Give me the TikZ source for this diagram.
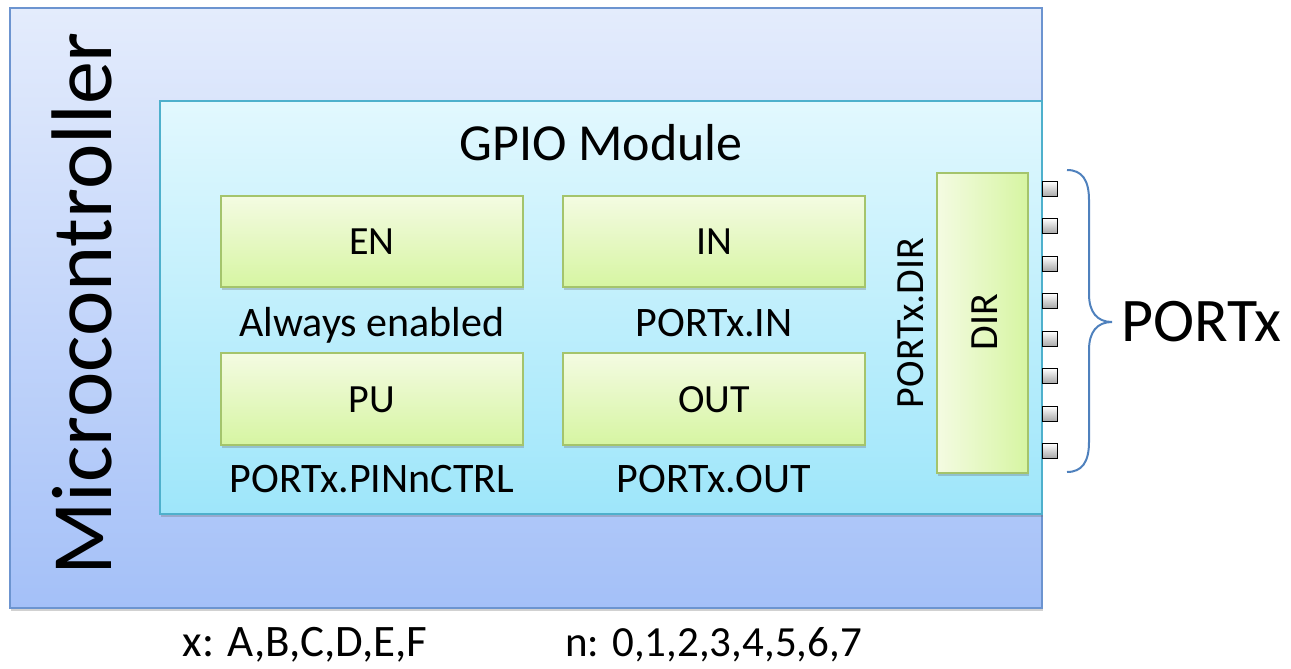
\documentclass[tikz,border=0pt]{standalone}
\usepackage{fontspec}
\setmainfont{Carlito}
\usetikzlibrary{shadows}
\definecolor{outtop}{HTML}{E4ECFC}
\definecolor{outbot}{HTML}{A4C0F8}
\definecolor{outline}{HTML}{6C94D0}
\definecolor{gtop}{HTML}{E2F8FE}
\definecolor{gbot}{HTML}{9EE6FA}
\definecolor{gline}{HTML}{4EB0CC}
\definecolor{rtop}{HTML}{F4FBE2}
\definecolor{rbot}{HTML}{D6F5A2}
\definecolor{rline}{HTML}{A4C46C}
\definecolor{bracec}{HTML}{4F81BD}
\newcommand{\fsz}[1]{\fontsize{#1}{#1}\selectfont}
\begin{document}
\begin{tikzpicture}[x=1pt,y=-1pt,
  shad/.style={drop shadow={shadow xshift=1pt,shadow yshift=-3pt,opacity=0.3,fill=black!60}},
  outerbox/.style={draw=outline,line width=1.5pt,top color=outtop,bottom color=outbot,shad},
  gpiobox/.style={draw=gline,line width=1.5pt,top color=gtop,bottom color=gbot,shad},
  regbox/.style={draw=rline,line width=1.5pt,top color=rtop,bottom color=rbot,shad},
  dirbox/.style={draw=rline,line width=1.5pt,left color=rtop,right color=rbot,shad},
  pinbox/.style={draw=black,line width=1.8pt,top color=white,bottom color=black!35,minimum size=15pt,inner sep=0pt},
  regtext/.style={font=\fsz{40}},
  lbl/.style={font=\fsz{42},anchor=base},
  bracepath/.style={draw=bracec,line width=2pt}]
\useasboundingbox (0,0) rectangle (1291,669);
% outer microcontroller box
\path[outerbox] (10,8) rectangle (1042,608);
\node[font=\fsz{86},rotate=90,anchor=base] (mcu) at (111,304) {Microcontroller};
% GPIO module
\path[gpiobox] (160,101) rectangle (1042,514);
\node[font=\fsz{52},anchor=base] (gpio) at (601,160) {GPIO Module};
% registers
\path[regbox] (221,196) rectangle (523,287);
\node[regtext] (en) at (372,242) {EN};
\path[regbox] (563,196) rectangle (865,287);
\node[regtext] (in) at (714,242) {IN};
\path[regbox] (221,353) rectangle (523,445);
\node[regtext] (pu) at (372,400) {PU};
\path[regbox] (563,353) rectangle (865,445);
\node[regtext] (out) at (714,400) {OUT};
\node[lbl] (enl) at (372,336) {Always enabled};
\node[lbl] (inl) at (714,336) {PORTx.IN};
\node[lbl] (pul) at (372,492) {PORTx.PINnCTRL};
\node[lbl] (outl) at (714,492) {PORTx.OUT};
% DIR
\path[dirbox] (937,173) rectangle (1028,473);
\node[regtext,rotate=90] (dir) at (985,322) {DIR};
\node[font=\fsz{40},rotate=90,anchor=base] (dirl) at (923,323) {PORTx.DIR};
% pins
\foreach \i/\yy in {1/189,2/226,3/264,4/301,5/339,6/376,7/414,8/451}
  \node[pinbox] (p\i) at (1050,\yy) {};
% brace
\coordinate (btop) at (1067,170);
\coordinate (btip) at (1112,322);
\coordinate (bbot) at (1067,472);
\draw[bracepath] (btop) .. controls (1082,170) and (1089,180) .. (1089,200) -- (1089,294)
  .. controls (1089,312) and (1097,322) .. (btip)
  .. controls (1097,322) and (1089,332) .. (1089,350) -- (1089,442)
  .. controls (1089,462) and (1082,472) .. (bbot);
\node[font=\fsz{62},anchor=west,inner sep=0pt] (portx) at (1121,322) {PORTx};
% footnotes
\node[font=\fsz{45},anchor=base] (xn) at (305,656) {x: A,B,C,D,E,F};
\node[font=\fsz{43},anchor=base west,inner sep=0pt] (nn) at (565,656) {n: 0,1,2,3,4,5,6,7};
\end{tikzpicture}
\end{document}
